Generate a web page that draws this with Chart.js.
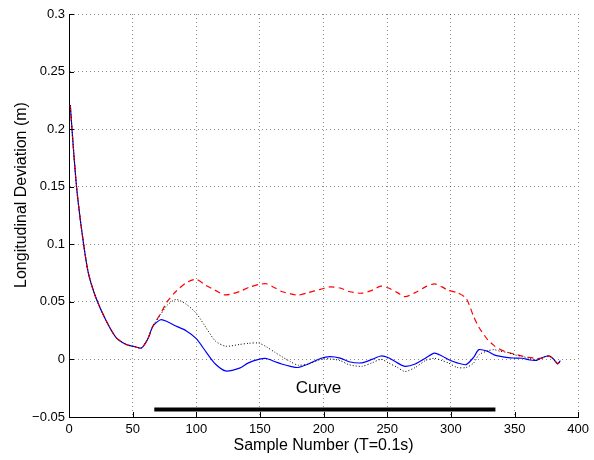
<!DOCTYPE html>
<html>
<head>
<meta charset="utf-8">
<script src="https://cdn.jsdelivr.net/npm/chart.js@4.4.0/dist/chart.umd.min.js"></script>
<style>
  html, body { margin: 0; padding: 0; background: #fff; }
  #wrap { width: 594px; height: 460px; }
</style>
</head>
<body>
<div id="wrap"><canvas id="deviationChart" width="594" height="460"></canvas></div>
<script>
// Sample numbers (shared by all three traces)
const sampleX = [
  1, 3, 6, 10, 15, 21, 29, 37, 45, 52,
  57, 62, 66, 72, 77, 84, 92, 100, 108, 115,
  123, 134, 141, 149, 155, 162, 167, 174, 180, 188,
  198, 205, 213, 220, 230, 238, 245, 251, 258, 264,
  272, 280, 287, 293, 298, 305, 312, 318, 322, 329,
  334, 339, 345, 350, 356, 362, 367, 372, 377, 380,
  384, 386
];

// solid blue trace
const blueY = [
  0.221, 0.190, 0.149, 0.112, 0.076, 0.054, 0.034, 0.019, 0.013, 0.011,
  0.010, 0.018, 0.029, 0.0345, 0.033, 0.029, 0.025, 0.018, 0.006, -0.004,
  -0.010, -0.0075, -0.003, 0.000, 0.0008, -0.002, -0.004, -0.006, -0.007, -0.004,
  0.001, 0.0025, 0.0012, -0.002, -0.003, 0.000, 0.003, 0.0015, -0.003, -0.006,
  -0.004, 0.001, 0.0055, 0.003, 0.000, -0.003, -0.0045, 0.002, 0.0085, 0.007,
  0.004, 0.0026, 0.0015, 0.0012, 0.001, -0.0005, -0.0008, 0.0017, 0.003, 0.001,
  -0.0038, -0.001
];

// dashed red trace
const redY = [
  0.221, 0.190, 0.149, 0.112, 0.076, 0.054, 0.034, 0.019, 0.013, 0.011,
  0.010, 0.018, 0.029, 0.040, 0.050, 0.059, 0.0665, 0.0695, 0.064, 0.060,
  0.056, 0.059, 0.0625, 0.065, 0.0657, 0.062, 0.059, 0.057, 0.0558, 0.058,
  0.061, 0.063, 0.062, 0.059, 0.0575, 0.060, 0.0637, 0.062, 0.058, 0.0545,
  0.058, 0.063, 0.0657, 0.063, 0.060, 0.058, 0.053, 0.037, 0.028, 0.017,
  0.012, 0.0085, 0.006, 0.0046, 0.003, 0.0017, 0.0008, 0.0012, 0.003, 0.001,
  -0.0038, -0.001
];

// dotted black trace
const dotY = [
  0.221, 0.190, 0.149, 0.112, 0.076, 0.054, 0.034, 0.019, 0.013, 0.011,
  0.010, 0.018, 0.029, 0.039, 0.047, 0.052, 0.048, 0.040, 0.027, 0.016,
  0.0115, 0.013, 0.014, 0.0142, 0.011, 0.006, 0.0026, -0.002, -0.005, -0.004,
  0.000, 0.0005, -0.001, -0.0046, -0.006, -0.003, 0.000, -0.003, -0.007, -0.0105,
  -0.007, -0.001, 0.001, -0.001, -0.003, -0.007, -0.007, -0.003, 0.004, 0.0075,
  0.0085, 0.007, 0.006, 0.004, 0.0026, 0.0008, -0.0008, 0.0017, 0.003, 0.001,
  -0.0038, -0.001
];

// thick bar marking the curve section
const curveBarX = [67, 335];
const curveBarY = [-0.0434, -0.0434];
const curveLabel = 'Curve';

const xTicks = [0, 50, 100, 150, 200, 250, 300, 350, 400];
const yTicks = [-0.05, 0, 0.05, 0.1, 0.15, 0.2, 0.25, 0.3];

const toPoints = (xs, ys) => xs.map((x, i) => ({x: x, y: ys[i]}));

const FONT = 'Liberation Sans, Arial, Helvetica, sans-serif';

// MATLAB style ticks drawn inward, the y title and the "Curve" label
const matlabBits = {
  id: 'matlabBits',
  afterDraw(chart) {
    const {ctx, chartArea: a, scales: {x, y}} = chart;
    ctx.save();
    ctx.strokeStyle = '#000';
    ctx.lineWidth = 1;
    ctx.beginPath();
    yTicks.forEach(v => {
      const py = Math.round(y.getPixelForValue(v)) + 0.5;
      ctx.moveTo(a.left, py);
      ctx.lineTo(a.left + 5, py);
    });
    xTicks.forEach(v => {
      const px = Math.round(x.getPixelForValue(v)) + 0.5;
      ctx.moveTo(px, a.bottom);
      ctx.lineTo(px, a.bottom - 5);
    });
    ctx.stroke();

    ctx.fillStyle = '#000';
    ctx.font = '17px ' + FONT;
    ctx.textAlign = 'center';
    ctx.textBaseline = 'middle';
    ctx.fillText(curveLabel, x.getPixelForValue(196), y.getPixelForValue(-0.025));

    ctx.font = '16px ' + FONT;
    ctx.translate(22, 195);
    ctx.rotate(-Math.PI / 2);
    ctx.fillText('Longitudinal Deviation (m)', 0, 0);
    ctx.restore();
  }
};

new Chart(document.getElementById('deviationChart'), {
  type: 'line',
  data: {
    datasets: [
      {
        label: 'dotted',
        data: toPoints(sampleX, dotY),
        borderColor: '#000',
        borderWidth: 1,
        borderDash: [1, 2],
        pointRadius: 0,
        tension: 0.25
      },
      {
        label: 'red',
        data: toPoints(sampleX, redY),
        borderColor: '#ff0000',
        borderWidth: 1.2,
        borderDash: [6, 4],
        pointRadius: 0,
        tension: 0.25
      },
      {
        label: 'blue',
        data: toPoints(sampleX, blueY),
        borderColor: '#0000ff',
        borderWidth: 1.2,
        pointRadius: 0,
        tension: 0.25
      },
      {
        label: 'curve',
        data: toPoints(curveBarX, curveBarY),
        borderColor: '#000',
        borderWidth: 4,
        pointRadius: 0,
        borderCapStyle: 'butt'
      }
    ]
  },
  options: {
    responsive: false,
    animation: false,
    layout: {padding: {left: 0, right: 10, top: 14, bottom: 0}},
    plugins: {legend: {display: false}, tooltip: {enabled: false}},
    scales: {
      x: {
        type: 'linear',
        min: 0,
        max: 400,
        afterFit(scale) { scale.height = 43; },
        afterBuildTicks(scale) { scale.ticks = xTicks.map(v => ({value: v})); },
        ticks: {
          color: '#000',
          font: {family: FONT, size: 13},
          padding: 5,
          maxRotation: 0,
          callback: v => String(v)
        },
        grid: {color: 'rgba(0,0,0,0.45)', drawTicks: false},
        border: {display: true, color: '#000', width: 1, dash: [1, 3]},
        title: {
          display: true,
          text: 'Sample Number (T=0.1s)',
          color: '#000',
          font: {family: FONT, size: 16},
          padding: {top: 0, bottom: 5}
        }
      },
      y: {
        type: 'linear',
        min: -0.05,
        max: 0.3,
        afterFit(scale) { scale.width = 69; },
        afterBuildTicks(scale) { scale.ticks = yTicks.map(v => ({value: v})); },
        ticks: {
          color: '#000',
          font: {family: FONT, size: 13},
          padding: 4,
          callback: v => String(Number(v.toFixed(2))).replace('-', '\u2212')
        },
        grid: {color: 'rgba(0,0,0,0.45)', drawTicks: false},
        border: {display: true, color: '#000', width: 1, dash: [1, 3]}
      }
    }
  },
  plugins: [matlabBits]
});
</script>
</body>
</html>
